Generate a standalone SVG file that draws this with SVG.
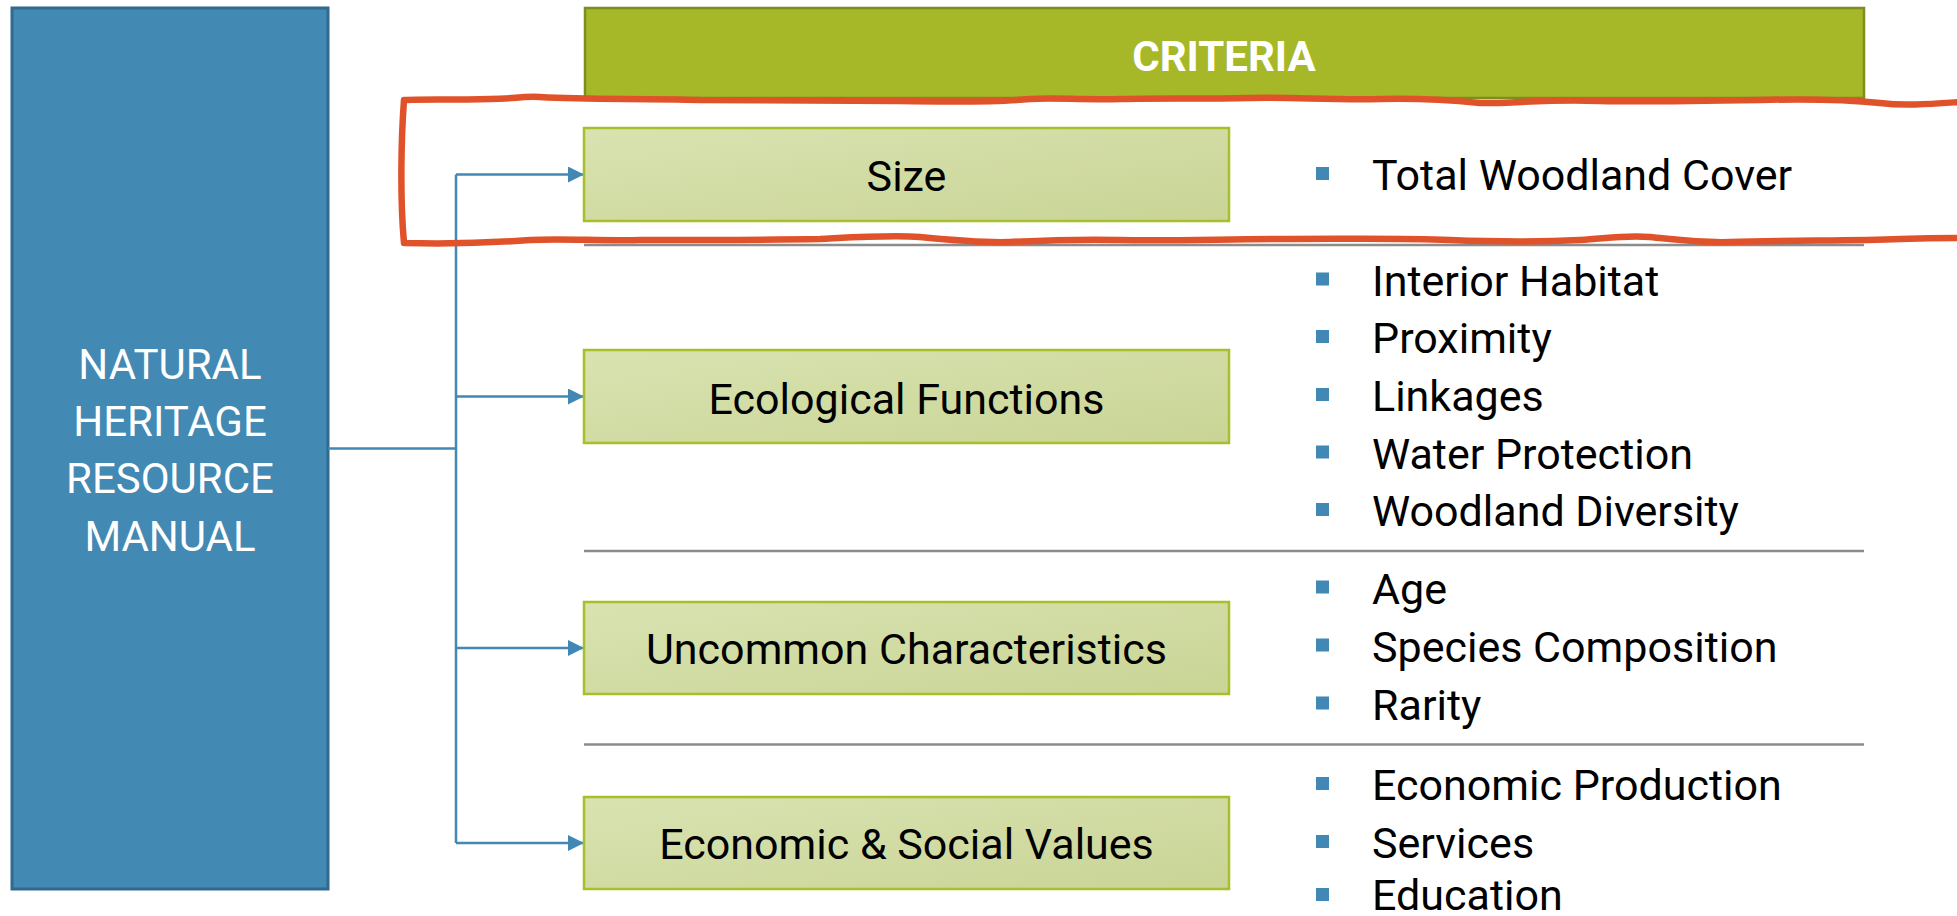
<svg xmlns="http://www.w3.org/2000/svg" width="1957" height="916" viewBox="0 0 1957 916">
<defs>
<style>
.t{font-family:Roboto,"Liberation Sans",sans-serif;font-size:43px}
.cap{font-size:42px}
.w{fill:#ffffff}
.k{fill:#000000}
.c{text-anchor:middle}
.box{fill:url(#boxg);stroke:#A8BE2A;stroke-width:2.5}
.conn{fill:none;stroke:#4189B4;stroke-width:2.5}
.sep{stroke:#8C8C8C;stroke-width:2.5}
.bul{fill:#4189B4}
</style>
<linearGradient id="boxg" x1="0" y1="0" x2="1" y2="1">
<stop offset="0" stop-color="#D9E3B1"/>
<stop offset="1" stop-color="#C9D496"/>
</linearGradient>
<marker id="arr" viewBox="0 0 16 16" refX="16" refY="8" markerWidth="16" markerHeight="16" markerUnits="userSpaceOnUse" orient="auto">
<path d="M0,0 L16,8 L0,16 Z" fill="#4189B4"/>
</marker>
</defs>
<rect width="1957" height="916" fill="#ffffff"/>

<g id="manual">
<rect x="12" y="8" width="316" height="881" fill="#4289B3" stroke="#31698F" stroke-width="3"/>
<text class="t cap w c" x="170" y="378.5">NATURAL</text>
<text class="t cap w c" x="170" y="435.5">HERITAGE</text>
<text class="t cap w c" x="170" y="493">RESOURCE</text>
<text class="t cap w c" x="170" y="551">MANUAL</text>
</g>

<g id="criteria-header">
<rect x="585" y="8" width="1279" height="90" fill="#A6B828" stroke="#7D8D1F" stroke-width="2.5"/>
<text class="t cap w c" x="1224" y="70.5" font-weight="bold">CRITERIA</text>
</g>

<g id="separators">
<line class="sep" x1="584" y1="245" x2="1864" y2="245"/>
<line class="sep" x1="584" y1="551" x2="1864" y2="551"/>
<line class="sep" x1="584" y1="744.5" x2="1864" y2="744.5"/>
</g>

<g id="connectors">
<path class="conn" d="M328,448.5 H456"/>
<path class="conn" d="M456,174.5 V843"/>
<path class="conn" d="M456,174.5 H584" marker-end="url(#arr)"/>
<path class="conn" d="M456,396.5 H584" marker-end="url(#arr)"/>
<path class="conn" d="M456,648 H584" marker-end="url(#arr)"/>
<path class="conn" d="M456,843 H584" marker-end="url(#arr)"/>
</g>

<g id="size">
<rect class="box" x="584" y="128" width="645" height="93"/>
<text class="t k c" x="906.5" y="190.5">Size</text>
</g>
<g id="ecological-functions">
<rect class="box" x="584" y="350" width="645" height="93"/>
<text class="t k c" x="906.5" y="414">Ecological Functions</text>
</g>
<g id="uncommon-characteristics">
<rect class="box" x="584" y="602" width="645" height="92"/>
<text class="t k c" x="906.5" y="663.5">Uncommon Characteristics</text>
</g>
<g id="economic-social-values">
<rect class="box" x="584" y="797" width="645" height="92"/>
<text class="t k c" x="906.5" y="859">Economic &amp; Social Values</text>
</g>

<g id="size-list">
<rect class="bul" x="1316" y="167" width="13" height="13"/>
<text class="t k" x="1372" y="190">Total Woodland Cover</text>
</g>
<g id="ecological-list">
<rect class="bul" x="1316" y="272.5" width="13" height="13"/>
<text class="t k" x="1372" y="295.5">Interior Habitat</text>
<rect class="bul" x="1316" y="330" width="13" height="13"/>
<text class="t k" x="1372" y="353">Proximity</text>
<rect class="bul" x="1316" y="388" width="13" height="13"/>
<text class="t k" x="1372" y="411">Linkages</text>
<rect class="bul" x="1316" y="445.5" width="13" height="13"/>
<text class="t k" x="1372" y="468.5">Water Protection</text>
<rect class="bul" x="1316" y="503" width="13" height="13"/>
<text class="t k" x="1372" y="526">Woodland Diversity</text>
</g>
<g id="uncommon-list">
<rect class="bul" x="1316" y="580.5" width="13" height="13"/>
<text class="t k" x="1372" y="603.5">Age</text>
<rect class="bul" x="1316" y="638.5" width="13" height="13"/>
<text class="t k" x="1372" y="661.5">Species Composition</text>
<rect class="bul" x="1316" y="696.5" width="13" height="13"/>
<text class="t k" x="1372" y="719.5">Rarity</text>
</g>
<g id="economic-list">
<rect class="bul" x="1316" y="777" width="13" height="13"/>
<text class="t k" x="1372" y="800">Economic Production</text>
<rect class="bul" x="1316" y="835" width="13" height="13"/>
<text class="t k" x="1372" y="858">Services</text>
<rect class="bul" x="1316" y="888" width="13" height="13"/>
<text class="t k" x="1372" y="910">Education</text>
</g>

<g id="highlight">
<path d="M1960,102 C1930,104 1905,106 1880,103 C1840,99 1800,99 1760,100 C1700,101 1640,102 1600,101 C1540,99 1505,104 1480,103 C1450,100 1420,98 1380,99 C1330,100 1290,97 1250,98 C1200,99 1160,98 1120,99 C1080,100 1050,97 1030,99 C1000,102 960,102 900,101 C820,100 760,100 700,100 C640,98 590,100 540,97 C520,96 515,99 490,99 C450,100 420,99 404,100 C401,140 400,200 404,243 C440,244 490,243 530,240 C560,238 600,241 640,240 C700,240 760,240 820,239 C860,237 890,235 920,237 C950,240 980,243 1010,242 C1050,240 1080,239 1120,240 C1170,241 1230,239 1290,239 C1350,239 1400,238 1450,240 C1500,242 1540,242 1580,240 C1610,238 1625,235 1650,237 C1680,240 1700,243 1730,242 C1790,240 1850,241 1900,239 C1930,238 1945,238 1960,238" fill="none" stroke="#E0532A" stroke-width="6.5" stroke-linecap="round" stroke-linejoin="round"/>
</g>
</svg>
